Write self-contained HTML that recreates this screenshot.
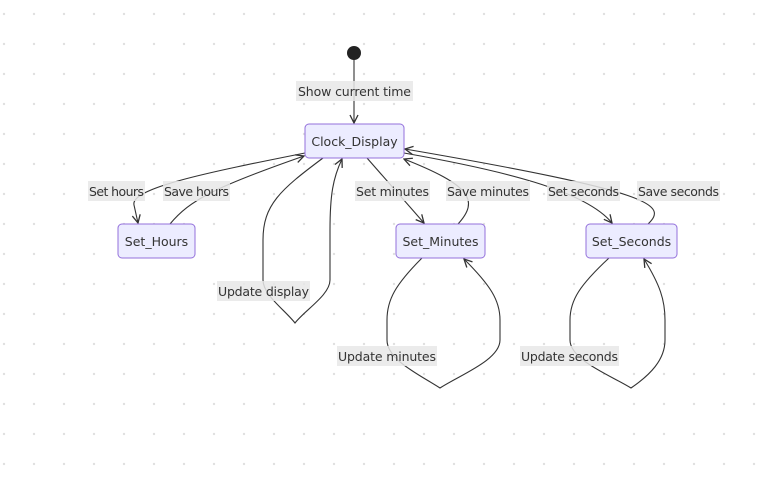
<!DOCTYPE html>
<html><head><style>
body{margin:0;background:#fff;}
svg{display:block;font-family:"DejaVu Sans","Liberation Sans",sans-serif;}
</style></head><body>
<svg width="782" height="485" viewBox="0 0 782 485" xmlns="http://www.w3.org/2000/svg">
<defs>
<pattern id="dots" x="4" y="14" width="30" height="30" patternUnits="userSpaceOnUse">
<circle cx="0" cy="0" r="1.2" fill="#e0e0e0"/><circle cx="30" cy="0" r="1.2" fill="#e0e0e0"/><circle cx="0" cy="30" r="1.2" fill="#e0e0e0"/><circle cx="30" cy="30" r="1.2" fill="#e0e0e0"/>
</pattern>
<marker id="a" markerWidth="10" markerHeight="10" refX="9" refY="5" orient="auto" markerUnits="userSpaceOnUse">
<path d="M1,1 L9,5 L1,9" fill="none" stroke="#333" stroke-width="1.3"/>
</marker>
</defs>
<rect width="782" height="485" fill="url(#dots)"/>
<g fill="none" stroke="#333" stroke-width="1.1">
<path d="M354,59 L354,123" marker-end="url(#a)"/>
<path d="M305,153 C210,172 130,188 134,205 L138,223" marker-end="url(#a)"/>
<path d="M170,224 C190,200 215,187 304,156" marker-end="url(#a)"/>
<path d="M323,158 C280,190 263,205 263,240 L263,280 C263,295 285,310 295,323 C305,310 330,295 330,280 L330,230 C330,195 333,178 342,159" marker-end="url(#a)"/>
<path d="M367,158 L424,223" marker-end="url(#a)"/>
<path d="M458,224 C480,200 470,185 404,159" marker-end="url(#a)"/>
<path d="M404,153 C500,170 585,190 612,223" marker-end="url(#a)"/>
<path d="M648,224 C668,205 655,192 405,149" marker-end="url(#a)"/>
<path d="M422,258 C395,285 387,300 387,320 L387,340 C387,360 420,375 440,388 C460,375 500,360 500,340 L500,320 C500,300 490,285 464,259" marker-end="url(#a)"/>
<path d="M609,258 C580,285 570,300 570,320 L570,340 C570,360 610,375 631,388 C650,375 665,360 665,340 L665,320 C665,300 660,285 644,259" marker-end="url(#a)"/>
</g>
<circle cx="354" cy="53" r="7" fill="#222"/>
<g fill="#ececff" stroke="#9370db" stroke-width="1">
<rect x="305" y="124" width="99" height="34" rx="4"/>
<rect x="118" y="224" width="77" height="34" rx="4"/>
<rect x="396" y="224" width="89" height="34" rx="4"/>
<rect x="586" y="224" width="91" height="34" rx="4"/>
</g>
<g font-size="12.5" fill="#333" text-anchor="middle">
<text x="354.5" y="146">Clock_Display</text>
<text x="156.5" y="246">Set_Hours</text>
<text x="440.5" y="246">Set_Minutes</text>
<text x="631.5" y="246">Set_Seconds</text>
</g>
<g fill="#e8e8e8" opacity="0.85">
<rect x="296" y="81" width="117" height="20"/>
<rect x="88" y="181" width="57" height="20"/>
<rect x="163" y="181" width="67" height="20"/>
<rect x="217" y="281" width="93" height="20"/>
<rect x="355" y="181" width="75" height="20"/>
<rect x="446" y="181" width="84" height="20"/>
<rect x="547" y="181" width="73" height="20"/>
<rect x="637" y="181" width="83" height="20"/>
<rect x="337" y="346" width="100" height="20"/>
<rect x="520" y="346" width="99" height="20"/>
</g>
<g font-size="12.5" fill="#333" text-anchor="middle">
<text x="354.5" y="96" textLength="113">Show current time</text>
<text x="116.5" y="196" textLength="55">Set hours</text>
<text x="196.5" y="196" textLength="65">Save hours</text>
<text x="263.5" y="296" textLength="91">Update display</text>
<text x="392.5" y="196" textLength="73">Set minutes</text>
<text x="488" y="196" textLength="82">Save minutes</text>
<text x="583.5" y="196" textLength="71">Set seconds</text>
<text x="678.5" y="196" textLength="81">Save seconds</text>
<text x="387" y="361" textLength="98">Update minutes</text>
<text x="569.5" y="361" textLength="97">Update seconds</text>
</g>
</svg>
</body></html>
